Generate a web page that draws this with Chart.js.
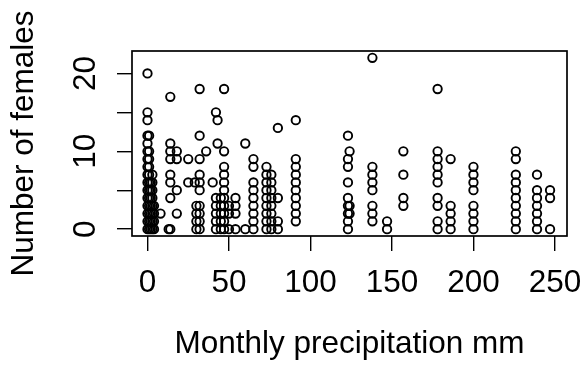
<!DOCTYPE html>
<html>
<head>
<meta charset="utf-8">
<script src="https://cdn.jsdelivr.net/npm/chart.js@4.4.1/dist/chart.umd.min.js"></script>
<style>
  html, body { margin: 0; padding: 0; background: #fff; }
  canvas { display: block; }
</style>
</head>
<body>
<canvas id="chart" width="585" height="365"></canvas>
<script>
// monthly precipitation (mm) and the female counts recorded at each value
const precipMm = [0, 1, 2, 3, 4, 8, 13, 14, 18, 25, 29, 30, 32, 36, 40, 42, 43, 45, 47, 50,
    54, 60, 65, 73, 76, 80, 91, 123, 124, 138, 147, 157, 178, 186, 200, 226, 239, 247];
const femalesAt = [
    [0, 1, 2, 3, 4, 5, 6, 7, 8, 9, 10, 11, 12, 14, 15, 20],
    [0, 1, 2, 3, 4, 5, 6, 7, 8, 9, 10, 12],
    [0, 1, 2, 3, 4, 5, 6],
    [0, 1, 2, 3, 4, 5, 6, 7],
    [0, 1, 2, 3],
    [2],
    [0],
    [0, 4, 6, 7, 9, 10, 11, 17],
    [2, 5, 9, 10],
    [6, 9],
    [6],
    [0, 1, 2, 3],
    [0, 1, 2, 3, 5, 6, 7, 9, 12, 18],
    [10],
    [6],
    [0, 1, 2, 3, 4, 15],
    [11, 14],
    [0, 1, 2, 3, 4],
    [0, 1, 2, 3, 4, 5, 6, 7, 8, 10, 18],
    [0, 2, 3],
    [0, 2, 3, 4],
    [0, 11],
    [0, 1, 2, 3, 4, 5, 6, 8, 9],
    [0, 1, 2, 3, 4, 5, 6, 7, 8],
    [0, 1, 2, 3, 4, 5, 6, 7],
    [0, 1, 4, 13],
    [1, 2, 3, 4, 5, 6, 7, 8, 9, 14],
    [0, 1, 2, 3, 4, 6, 8, 9, 12],
    [2, 3, 10],
    [1, 2, 3, 5, 6, 7, 8, 22],
    [0, 1],
    [3, 4, 7, 10],
    [0, 1, 3, 4, 6, 7, 8, 9, 10, 18],
    [0, 1, 2, 3, 9],
    [0, 1, 2, 3, 5, 6, 7, 8],
    [0, 1, 2, 3, 4, 5, 6, 7, 9, 10],
    [0, 1, 2, 3, 4, 5, 7],
    [0, 4, 5]
];
const xTicks = [0, 50, 100, 150, 200, 250];
const yTicks = [0, 5, 10, 15, 20];
const yTickLabels = ['0', '', '10', '', '20'];

const points = [];
precipMm.forEach((x, i) => {
    femalesAt[i].forEach(y => points.push({x: x, y: y}));
});

const FONT = {family: '"Liberation Sans", Arial, sans-serif', size: 31.5};

// R style box round the plot region
const boxPlugin = {
    id: 'box',
    afterDraw(chart) {
        const a = chart.chartArea;
        const ctx = chart.ctx;
        ctx.save();
        ctx.strokeStyle = '#000';
        ctx.lineWidth = 1.7;
        ctx.strokeRect(a.left, a.top, a.right - a.left, a.bottom - a.top);
        ctx.restore();
    }
};

new Chart(document.getElementById('chart'), {
    type: 'scatter',
    data: {
        datasets: [{
            data: points,
            pointStyle: 'circle',
            pointRadius: 4.2,
            pointHoverRadius: 4.2,
            borderColor: '#000',
            backgroundColor: 'rgba(0,0,0,0)',
            borderWidth: 1.9,
            clip: false
        }]
    },
    options: {
        responsive: false,
        animation: false,
        devicePixelRatio: 1,
        layout: {padding: {top: 51, right: 18, left: 0, bottom: 0}},
        plugins: {legend: {display: false}, tooltip: {enabled: false}},
        scales: {
            x: {
                type: 'linear',
                min: -9.5,
                max: 257.4,
                afterBuildTicks: s => { s.ticks = xTicks.map(v => ({value: v})); },
                afterFit: s => { s.height = 129; s.paddingLeft = 0; s.paddingRight = 0; },
                ticks: {color: '#000', font: FONT, padding: 13.5, maxRotation: 0, autoSkip: false},
                grid: {drawOnChartArea: false, tickLength: 15, color: '#000', lineWidth: 1.4},
                border: {display: false},
                title: {display: true, text: 'Monthly precipitation mm', color: '#000', font: FONT,
                    padding: {top: 0, bottom: 2}}
            },
            y: {
                type: 'linear',
                min: -0.88,
                max: 22.88,
                afterBuildTicks: s => { s.ticks = yTicks.map(v => ({value: v})); },
                afterFit: s => { s.width = 132; s.paddingTop = 0; s.paddingBottom = 0; },
                ticks: {
                    color: '#000', font: FONT, padding: 13.4, autoSkip: false,
                    minRotation: 90, maxRotation: 90, crossAlign: 'center',
                    callback: (v, i) => yTickLabels[i]
                },
                grid: {drawOnChartArea: false, tickLength: 15, color: '#000', lineWidth: 1.4},
                border: {display: false},
                title: {display: true, text: 'Number of females', color: '#000', font: FONT,
                    padding: {top: 5.2, bottom: 0}}
            }
        }
    },
    plugins: [boxPlugin]
});
</script>
</body>
</html>
